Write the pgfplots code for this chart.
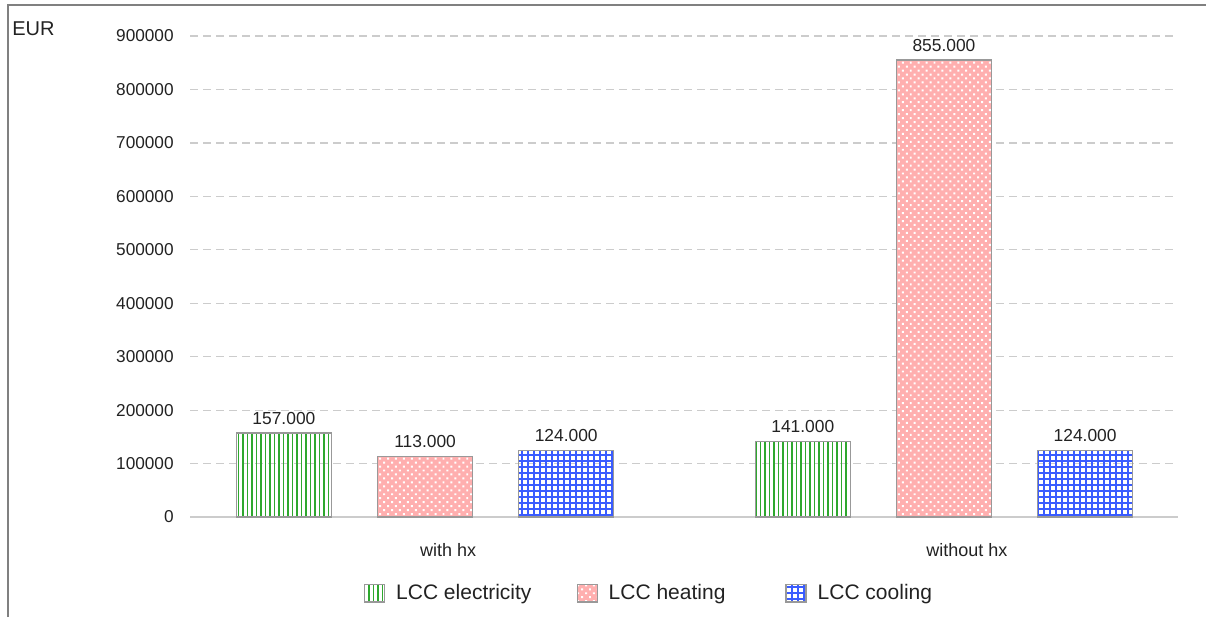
\documentclass[border=0pt]{standalone}
\usepackage{pgfplots}
\pgfplotsset{compat=1.18}
\usetikzlibrary{patterns.meta}
\usepackage{fontspec}
\setmainfont{Liberation Sans}
\definecolor{elgreen}{HTML}{2EA82E}
\definecolor{heatpink}{HTML}{FFAFAF}
\definecolor{coolblue}{HTML}{3A5CFF}
\definecolor{bordergray}{HTML}{999999}
\definecolor{gridgray}{HTML}{CCCCCC}
\definecolor{txt}{HTML}{222222}
\pgfplotsset{sq legend/.style={/pgfplots/legend image code/.code={\draw[##1] (0pt,-4.5pt) rectangle (10pt,4.3pt);}}}
\begin{document}
\begin{tikzpicture}
\useasboundingbox (0,0) rectangle (603pt,308.5pt);
\draw[color=gray, line width=0.8pt] (4pt,0) -- (4pt,306pt) -- (603pt,306pt);
\node[anchor=west, inner sep=0pt, font=\fontsize{10}{12}\selectfont, text=txt] at (6pt,294pt) {EUR};
\begin{axis}[
  at={(95pt,50pt)}, anchor=south west,
  scale only axis, width=494pt, height=240.5pt,
  xmin=-0.453, xmax=1.451, ymin=0, ymax=900000,
  ybar, bar width=0.183,
  axis line style={draw=none}, tick style={draw=none},
  xtick={0,1}, xticklabels={with hx, without hx},
  xticklabel style={anchor=center, yshift=-12.5pt, xshift=11.5pt, font=\fontsize{9}{11}\selectfont, text=txt},
  ytick={100000,200000,...,900000},
  extra y ticks={0}, extra y tick labels={0},
  extra y tick style={grid style={solid, color=gridgray, line width=1pt}},
  scaled y ticks=false,
  yticklabel style={anchor=east, inner sep=0pt, xshift=-8pt, font=\fontsize{8.6}{10}\selectfont, text=txt,
    /pgf/number format/.cd, fixed, 1000 sep={}, assume math mode=true},
  ymajorgrids,
  grid style={dash pattern=on 4pt off 2.5pt, color=gridgray, line width=0.6pt},
  nodes near coords={\pgfmathprintnumber[fixed, precision=0, 1000 sep={.}, assume math mode=true]{\pgfplotspointmeta}},
  every node near coord/.append style={anchor=south, inner sep=0pt, yshift=4pt, font=\fontsize{8.7}{10}\selectfont, text=txt},
  legend columns=3,
  legend style={at={(0.4656,-0.158)}, anchor=center, draw=none, fill=none,
    font=\fontsize{10.5}{12}\selectfont, text=txt,
    /tikz/column 1/.style={column sep=3.5pt},
    /tikz/column 3/.style={column sep=3.5pt},
    /tikz/column 5/.style={column sep=3.5pt},
    /tikz/column 2/.style={column sep=20.5pt},
    /tikz/column 4/.style={column sep=28pt}},
  legend cell align=left,
]
\addplot[sq legend, bar shift=-0.272, draw=bordergray, line width=0.6pt,
  pattern={Lines[angle=90,distance=2.25pt,line width=0.8pt]}, pattern color=elgreen]
  coordinates {(0,157000) (1,141000)};
\addplot[sq legend, bar shift=0, draw=bordergray, line width=0.6pt, fill=heatpink,
  postaction={pattern={Dots[angle=45,distance=2.8pt,radius=0.7pt]}, pattern color=white}]
  coordinates {(0,113000) (1,855000)};
\addplot[sq legend, bar shift=0.272, draw=bordergray, line width=0.6pt,
  pattern={Hatch[angle=0,distance=3pt,line width=0.7pt]}, pattern color=coolblue]
  coordinates {(0,124000) (1,124000)};
\legend{LCC electricity, LCC heating, LCC cooling}
\end{axis}
\end{tikzpicture}
\end{document}
